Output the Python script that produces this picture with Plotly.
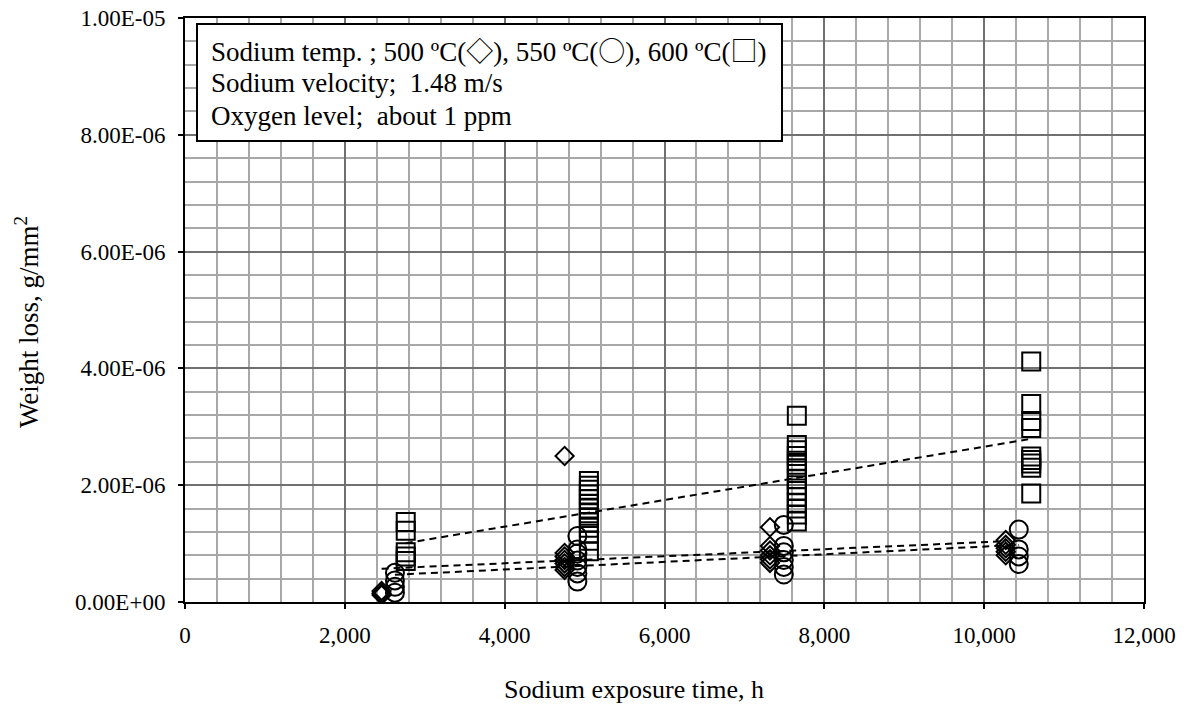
import numpy as np
import plotly.graph_objects as go

# Sodium exposure time (h) and weight loss (g/mm^2, in units of 1e-6) per test temperature
x_500 = [2460] * 3 + [4750] * 7 + [7320] * 6 + [10270] * 5
y_500 = [0.12, 0.15, 0.19,
         2.50, 0.84, 0.78, 0.72, 0.66, 0.60, 0.55,
         1.28, 0.96, 0.88, 0.80, 0.73, 0.67,
         1.06, 0.98, 0.92, 0.86, 0.80]

x_550 = [2627] * 4 + [4910] * 7 + [7493] * 6 + [10433] * 4
y_550 = [0.50, 0.37, 0.26, 0.16,
         1.13, 0.90, 0.83, 0.71, 0.60, 0.49, 0.35,
         1.32, 0.96, 0.85, 0.72, 0.60, 0.47,
         1.24, 0.90, 0.78, 0.65]

x_600 = [2762] * 5 + [5054] * 14 + [7656] * 15 + [10589] * 9
y_600 = [1.37, 1.22, 0.85, 0.78, 0.70,
         2.07, 1.99, 1.92, 1.84, 1.76, 1.68, 1.60, 1.52, 1.44, 1.36, 1.27, 1.17, 1.05, 0.87,
         3.19, 2.69, 2.60, 2.50, 2.42, 2.35, 2.25, 2.10, 2.00, 1.90, 1.80, 1.70, 1.60, 1.50, 1.38,
         4.12, 3.39, 3.10, 2.98, 2.49, 2.43, 2.37, 2.30, 1.86]

y_tick_vals = [0, 2e-6, 4e-6, 6e-6, 8e-6, 1e-5]
y_tick_text = ["0.00E+00", "2.00E-06", "4.00E-06", "6.00E-06", "8.00E-06", "1.00E-05"]

FONT = "Liberation Serif, Times New Roman, serif"
SYM_FONT = "Noto Sans CJK JP"


def sym(ch):
    return f'<span style="font-family:{SYM_FONT}">{ch}</span>'


info_lines = [
    f"Sodium temp. ; 500 \u00baC({sym(chr(0x25C7))}), 550 \u00baC({sym(chr(0x25CB))}), "
    f"600 \u00baC({sym(chr(0x25A1))})",
    "Sodium velocity;  1.48 m/s",
    "Oxygen level;  about 1 ppm",
]

series = [
    (x_500, y_500, "diamond-open", 14),
    (x_550, y_550, "circle-open", 18),
    (x_600, y_600, "square-open", 18),
]

fig = go.Figure()

for xs, ys, symbol, size in series:
    fig.add_trace(go.Scatter(
        x=xs, y=np.array(ys) * 1e-6, mode="markers",
        marker=dict(symbol=symbol, size=size, color="black",
                    line=dict(width=2, color="black")),
        showlegend=False, hoverinfo="skip",
    ))

# Linear trend lines across each series' exposure range
for xs, ys, symbol, size in series:
    xa = np.array(xs, dtype=float)
    ya = np.array(ys) * 1e-6
    k, b = np.polyfit(xa, ya, 1)
    xl = np.array([xa.min(), xa.max()])
    fig.add_trace(go.Scatter(
        x=xl, y=k * xl + b, mode="lines",
        line=dict(color="black", width=2, dash="7px,5px"),
        showlegend=False, hoverinfo="skip",
    ))

W, H = 1186, 705
ml, mr, mt, mb = 185, 42, 18, 103
pw, ph = W - ml - mr, H - mt - mb


def px_x(px):
    return (px - ml) / pw


def px_y(py):
    return (H - mb - py) / ph


fig.add_shape(type="rect", xref="paper", yref="paper",
              x0=px_x(197), x1=px_x(782), y0=px_y(141), y1=px_y(24),
              fillcolor="white", line=dict(color="black", width=2), layer="above")

for text, py in zip(info_lines, [49, 83, 116]):
    fig.add_annotation(text=text, xref="paper", yref="paper",
                       x=px_x(209), y=px_y(py), xanchor="left", yanchor="middle",
                       showarrow=False, font=dict(family=FONT, size=27, color="black"))

fig.add_annotation(text="Sodium exposure time, h", xref="paper", yref="paper",
                   x=px_x(634), y=px_y(689), xanchor="center", yanchor="middle",
                   showarrow=False, font=dict(family=FONT, size=26, color="black"))
fig.add_annotation(text="Weight loss, g/mm<sup>2</sup>", xref="paper", yref="paper",
                   x=px_x(27), y=px_y(322), xanchor="center", yanchor="middle",
                   textangle=-90, showarrow=False,
                   font=dict(family=FONT, size=27, color="black"))

fig.update_xaxes(
    range=[0, 12000], tick0=0, dtick=2000, tickformat=",",
    showgrid=True, gridcolor="#707070", gridwidth=1.8,
    minor=dict(dtick=400, showgrid=True, gridcolor="#a8a8a8", gridwidth=1.6),
    showline=True, linecolor="black", linewidth=2, mirror=True,
    ticks="outside", ticklen=5, tickcolor="black", tickwidth=1.5,
    ticklabelstandoff=6, zeroline=False,
    tickfont=dict(family=FONT, size=23, color="black"),
)
fig.update_yaxes(
    range=[0, 1e-5], tickvals=y_tick_vals, ticktext=y_tick_text,
    showgrid=True, gridcolor="#707070", gridwidth=1.8,
    minor=dict(dtick=4e-7, tick0=0, showgrid=True, gridcolor="#a8a8a8", gridwidth=1.6),
    showline=True, linecolor="black", linewidth=2, mirror=True,
    ticks="outside", ticklen=5, tickcolor="black", tickwidth=1.5,
    ticklabelstandoff=8, zeroline=False,
    tickfont=dict(family=FONT, size=23, color="black"),
)

fig.update_layout(
    width=W, height=H,
    margin=dict(l=ml, r=mr, t=mt, b=mb, autoexpand=False),
    paper_bgcolor="white", plot_bgcolor="white",
    font=dict(family=FONT, size=23, color="black"),
)

fig.write_html("out.html")
